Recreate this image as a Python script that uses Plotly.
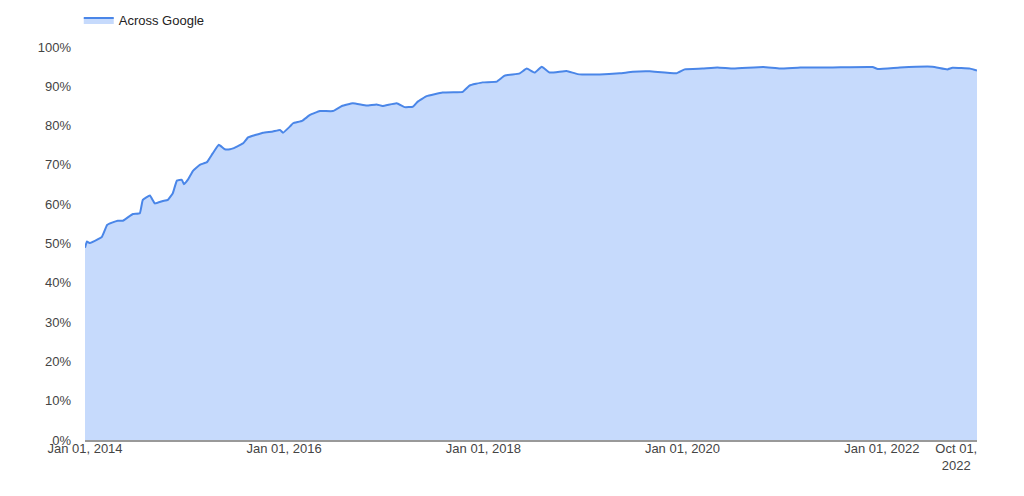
import plotly.graph_objects as go

dates = [
    "2014-01-01", "2014-01-08", "2014-01-19", "2014-02-18", "2014-03-04", "2014-03-23",
    "2014-04-10", "2014-05-01", "2014-05-20", "2014-06-08", "2014-06-26", "2014-07-21",
    "2014-08-01", "2014-08-27", "2014-09-14", "2014-10-13", "2014-11-01", "2014-11-19",
    "2014-12-04", "2014-12-22", "2014-12-30", "2015-01-14", "2015-02-01", "2015-02-26",
    "2015-03-24", "2015-04-03", "2015-04-15", "2015-05-07", "2015-05-29", "2015-06-17",
    "2015-06-28", "2015-07-24", "2015-08-04", "2015-08-22", "2015-09-17", "2015-10-16",
    "2015-11-21", "2015-12-17", "2015-12-28", "2016-01-23", "2016-02-03", "2016-03-07",
    "2016-04-05", "2016-05-11", "2016-06-28", "2016-07-31", "2016-09-09", "2016-10-30",
    "2016-12-05", "2016-12-27", "2017-02-17", "2017-03-18", "2017-04-17", "2017-05-05",
    "2017-06-07", "2017-08-04", "2017-09-25", "2017-10-17", "2017-11-11", "2017-12-29",
    "2018-02-19", "2018-03-20", "2018-05-14", "2018-06-09", "2018-07-08", "2018-08-03",
    "2018-09-01", "2018-11-02", "2018-12-12", "2019-03-03", "2019-05-16", "2019-07-03",
    "2019-09-03", "2019-12-10", "2020-01-09", "2020-03-14", "2020-05-08", "2020-07-06",
    "2020-10-23", "2020-12-24", "2021-03-08", "2021-07-05", "2021-11-28", "2021-12-17",
    "2022-03-08", "2022-07-05", "2022-08-29", "2022-09-17", "2022-11-21", "2022-12-16",
]
pct_https = [
    48.9, 50.5, 50.1, 51.1, 51.7, 54.7,
    55.3, 55.8, 55.8, 56.7, 57.5, 57.7,
    61.1, 62.2, 60.2, 60.8, 61.1, 62.8,
    66.0, 66.2, 65.1, 66.3, 68.5, 70.0,
    70.7, 71.7, 73.0, 75.1, 74.0, 74.0,
    74.2, 75.1, 75.5, 77.0, 77.6, 78.2,
    78.5, 78.9, 78.2, 79.8, 80.6, 81.2,
    82.7, 83.7, 83.7, 85.0, 85.7, 85.1,
    85.4, 85.0, 85.7, 84.7, 84.8, 86.1,
    87.5, 88.4, 88.5, 88.6, 90.2, 91.0,
    91.2, 92.7, 93.3, 94.5, 93.5, 95.0,
    93.5, 93.9, 93.1, 93.0, 93.3, 93.7,
    93.8, 93.3, 94.3, 94.5, 94.8, 94.5,
    94.9, 94.5, 94.8, 94.8, 94.9, 94.4,
    94.8, 95.0, 94.3, 94.7, 94.5, 94.0,
]
series_name = "Across Google"
x_tick_vals = ["2014-01-01", "2016-01-01", "2018-01-01", "2020-01-01", "2022-01-01", "2022-10-01"]
x_tick_text = ["Jan 01, 2014", "Jan 01, 2016", "Jan 01, 2018", "Jan 01, 2020", "Jan 01, 2022", "Oct 01,<br>2022"]
y_tick_vals = [0, 10, 20, 30, 40, 50, 60, 70, 80, 90, 100]
y_tick_text = [f"{v}%" for v in y_tick_vals]

fig = go.Figure()
fig.add_trace(go.Scatter(
    x=dates, y=pct_https, name=series_name, mode="lines",
    line=dict(color="#4a86e8", width=2, shape="spline", smoothing=0.3),
    fill="tozeroy", fillcolor="#c6dafc",
))

fig.update_layout(
    width=1024, height=496,
    margin=dict(l=77, r=55, t=39, b=64, autoexpand=False),
    paper_bgcolor="white", plot_bgcolor="white",
    font=dict(family="Liberation Sans, Arial, sans-serif", size=13, color="#444444"),
    showlegend=True,
    legend=dict(x=-0.007, xref="paper", y=1.107, yref="paper", yanchor="top",
                xanchor="left", orientation="h", font=dict(size=13, color="#222222"),
                itemwidth=30, bgcolor="rgba(0,0,0,0)", tracegroupgap=0),
)
fig.update_xaxes(
    type="date", range=["2014-01-01", "2022-12-16"],
    tickvals=x_tick_vals, ticktext=x_tick_text, tickangle=0,
    showgrid=False, zeroline=False, showline=True, linecolor="#999999", linewidth=2,
    ticks="", ticklabelstandoff=-5, tickfont=dict(size=13, color="#444444"),
)
fig.update_yaxes(
    range=[0, 100], tickvals=y_tick_vals, ticktext=y_tick_text,
    showgrid=False, zeroline=False, showline=False, ticks="",
    ticklabelstandoff=13, tickfont=dict(size=13, color="#444444"),
)

fig.write_html("out.html")
